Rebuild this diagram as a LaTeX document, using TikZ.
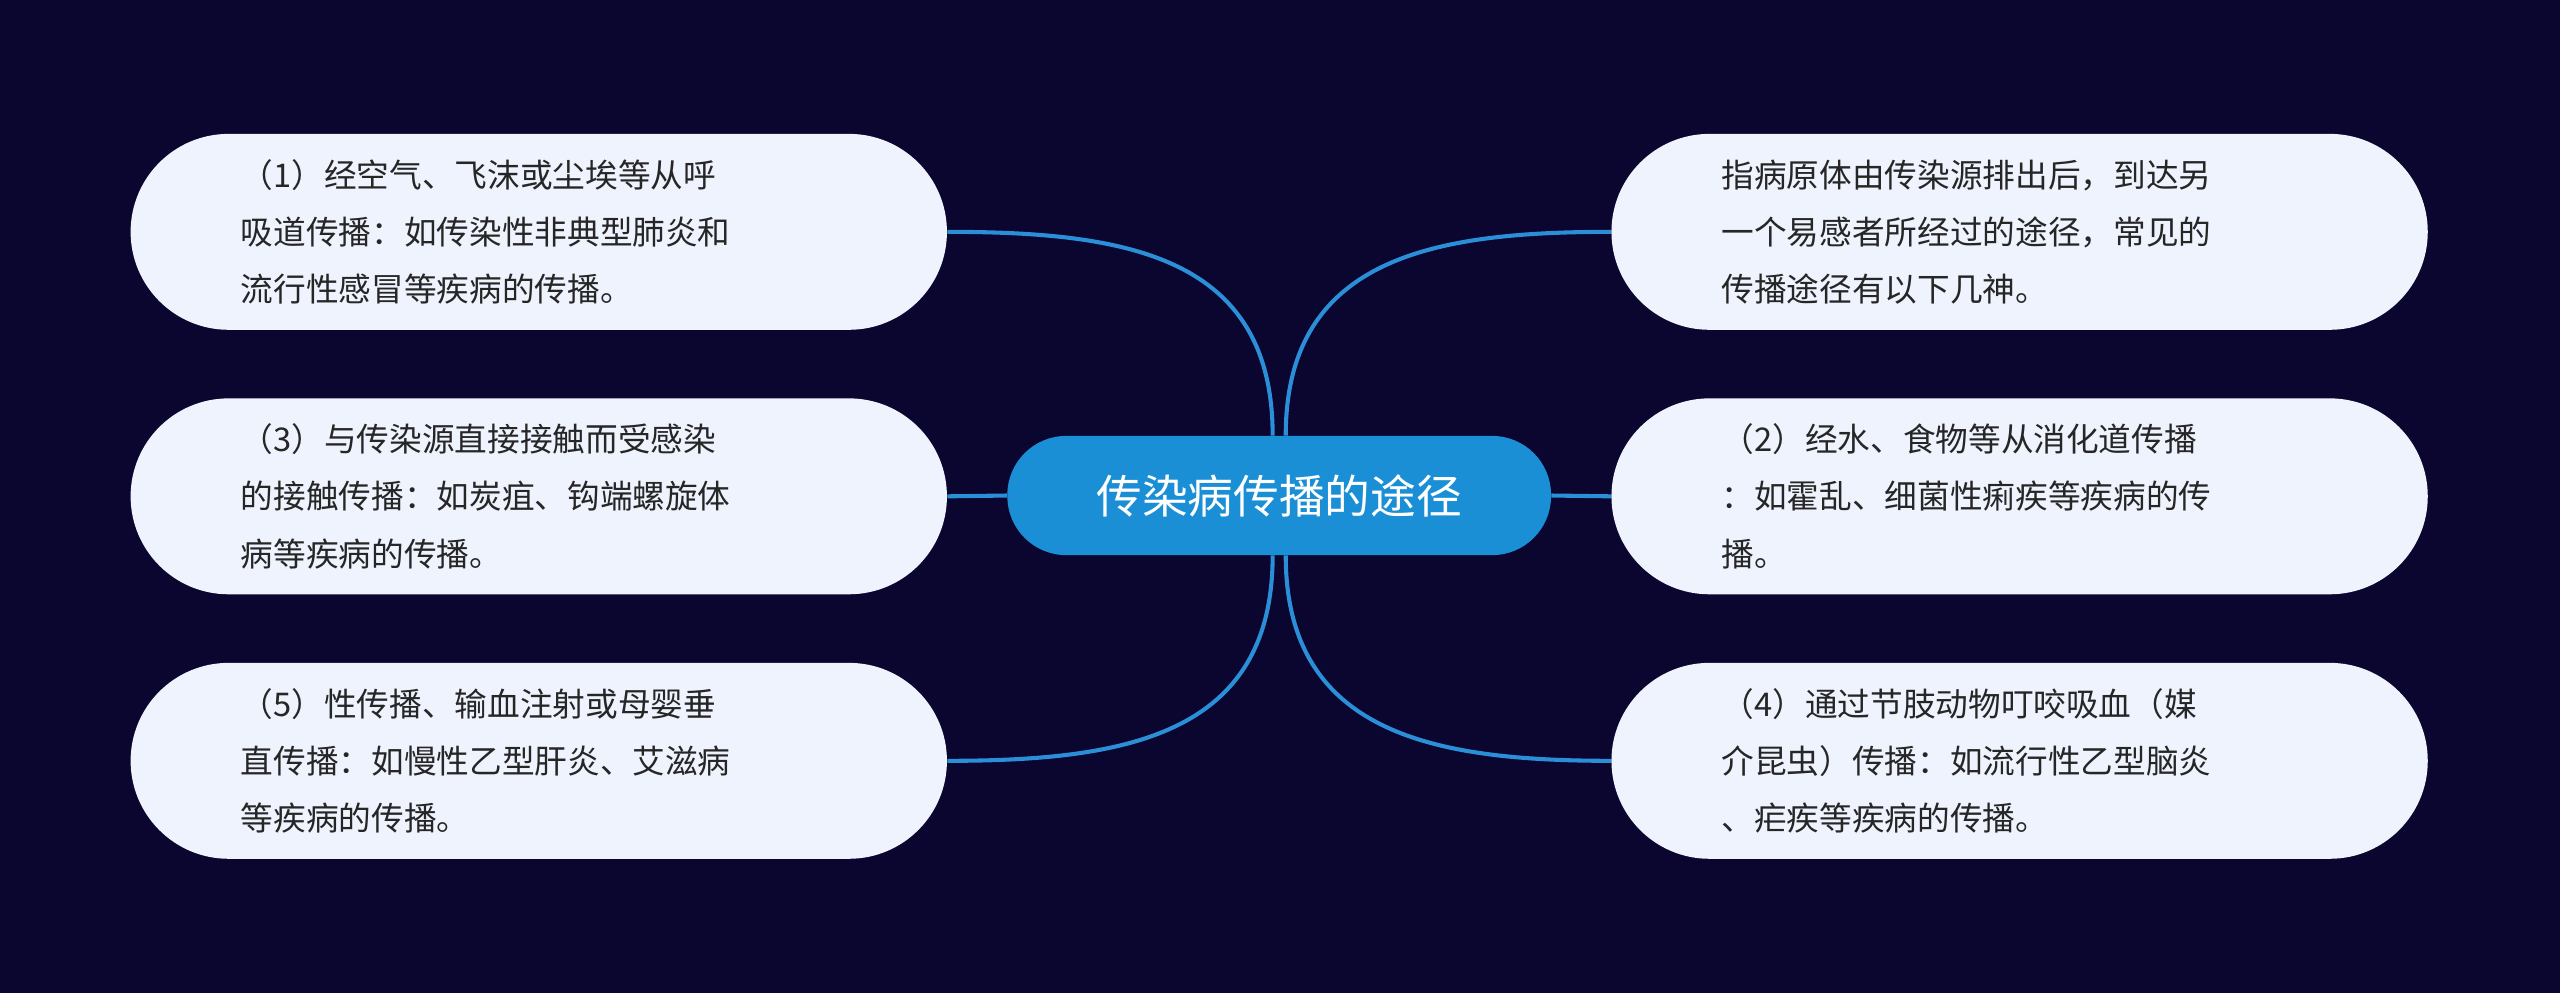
\documentclass[tikz,border=0pt]{standalone}
\usepackage{fontspec}
\setmainfont{Noto Sans CJK SC}
\definecolor{bg}{HTML}{0A0630}
\definecolor{ln}{HTML}{2A8FD6}
\definecolor{cf}{HTML}{1A8FD6}
\definecolor{lf}{HTML}{EEF3FD}
\begin{document}
\begin{tikzpicture}[x=1pt,y=-1pt,
 leaf/.style={fill=lf,rounded corners=60pt,minimum width=500pt,minimum height=120pt,inner sep=0pt,
   align=left,text width=365pt,font=\fontsize{20}{35}\selectfont,text=black!85},
 con/.style={draw=ln,line width=2.5pt}]
\fill[bg] (0,0) rectangle (1568,608);
\useasboundingbox (0,0) rectangle (1568,608);
\node[fill=cf,rounded corners=36pt,minimum width=333pt,minimum height=73pt,text=white,font=\fontsize{28}{32}\selectfont] (c) at (783.5,303.5) {传染病传播的途径};
\node[leaf] (l1) at (330,142) {（1）经空气、飞沫或尘埃等从呼\\吸道传播：如传染性非典型肺炎和\\流行性感冒等疾病的传播。};
\node[leaf] (l2) at (330,304) {（3）与传染源直接接触而受感染\\的接触传播：如炭疽、钩端螺旋体\\病等疾病的传播。};
\node[leaf] (l3) at (330,466) {（5）性传播、输血注射或母婴垂\\直传播：如慢性乙型肝炎、艾滋病\\等疾病的传播。};
\node[leaf] (r1) at (1237,142) {指病原体由传染源排出后，到达另\\一个易感者所经过的途径，常见的\\传播途径有以下几神。};
\node[leaf] (r2) at (1237,304) {（2）经水、食物等从消化道传播\\：如霍乱、细菌性痢疾等疾病的传\\播。};
\node[leaf] (r3) at (1237,466) {（4）通过节肢动物叮咬吸血（媒\\介昆虫）传播：如流行性乙型脑炎\\、疟疾等疾病的传播。};
\draw[con] (c.north) ++(-4,0) .. controls +(0,-110) and (690,142) .. (l1.east);
\draw[con] (c.west) -- (l2.east);
\draw[con] (c.south) ++(-4,0) .. controls +(0,110) and (690,466) .. (l3.east);
\draw[con] (c.north) ++(4,0) .. controls +(0,-110) and (880,142) .. (r1.west);
\draw[con] (c.east) -- (r2.west);
\draw[con] (c.south) ++(4,0) .. controls +(0,110) and (880,466) .. (r3.west);
\end{tikzpicture}
\end{document}
